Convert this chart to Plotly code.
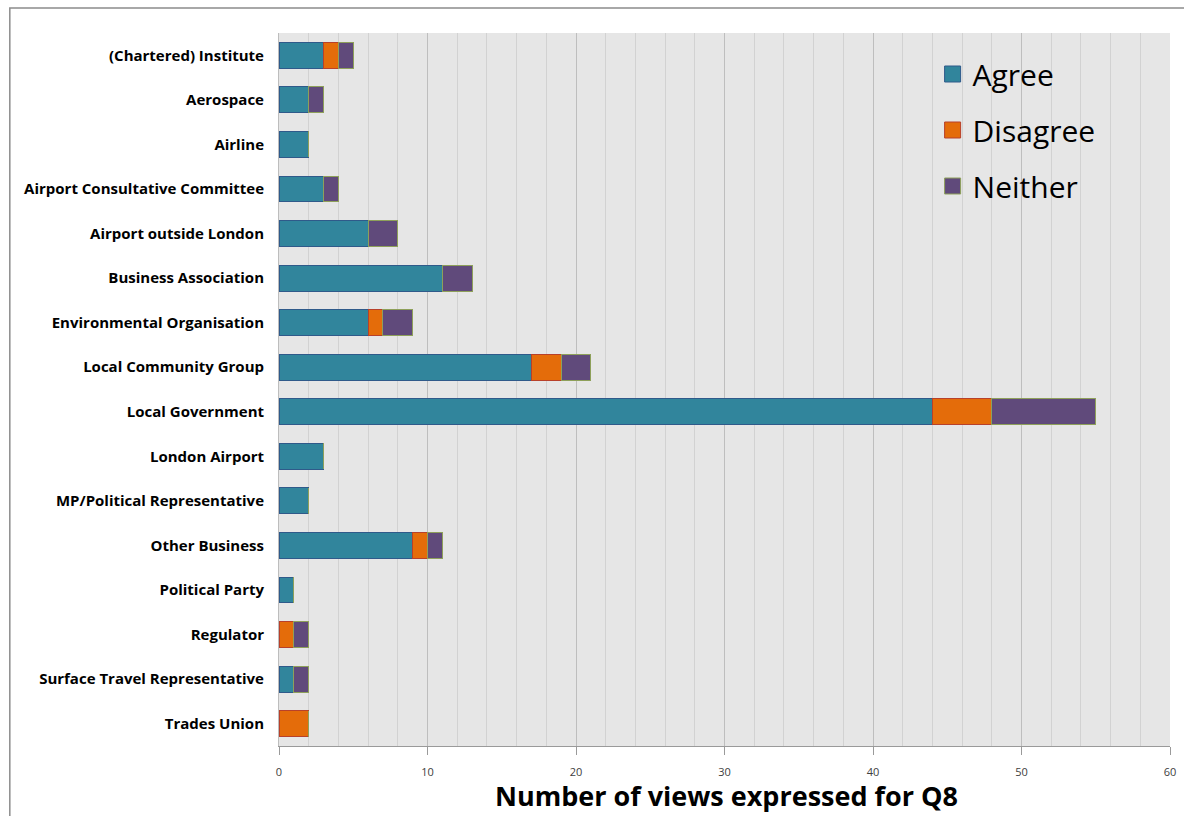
import plotly.graph_objects as go

categories = [
    "(Chartered) Institute", "Aerospace", "Airline", "Airport Consultative Committee",
    "Airport outside London", "Business Association", "Environmental Organisation",
    "Local Community Group", "Local Government", "London Airport",
    "MP/Political Representative", "Other Business", "Political Party", "Regulator",
    "Surface Travel Representative", "Trades Union",
]
agree    = [3, 2, 2, 3, 6, 11, 6, 17, 44, 3, 2, 9, 1, 0, 1, 0]
disagree = [1, 0, 0, 0, 0, 0, 1, 2, 4, 0, 0, 1, 0, 1, 0, 2]
neither  = [1, 1, 0, 1, 2, 2, 2, 2, 7, 0, 0, 1, 0, 1, 1, 0]

series = [
    ("Agree", agree, "#31859C", "#2F5A8A"),
    ("Disagree", disagree, "#E46C0A", "#B8412A"),
    ("Neither", neither, "#604A7B", "#8EA05A"),
]

W, H = 1184, 816
L, R, T, B = 279, 8, 33, 70
pw, ph = W - L - R, H - T - B

def px_x(px):
    return (px - L) / pw

def px_y(py):
    return (H - B - py) / ph

fig = go.Figure()
for name, vals, fill, edge in series:
    fig.add_trace(go.Bar(
        y=categories, x=vals, orientation="h", name=name,
        marker=dict(color=fill, line=dict(color=edge, width=1)),
        width=0.58, showlegend=False,
    ))
    # legend entry with a larger square swatch
    fig.add_trace(go.Scatter(
        x=[None], y=[None], mode="markers", name=name,
        marker=dict(symbol="square", size=20, color=fill, line=dict(color=edge, width=1)),
        legendgroup=name, showlegend=True,
    ))

fig.update_layout(
    width=W, height=H,
    margin=dict(l=L, r=R, t=T, b=B),
    barmode="stack",
    paper_bgcolor="white",
    plot_bgcolor="#E6E6E6",
    font=dict(family="Open Sans, Lato, sans-serif", color="#000000"),
    legend=dict(
        x=px_x(937), y=px_y(48), xanchor="left", yanchor="top",
        bgcolor="rgba(0,0,0,0)", font=dict(size=30, color="#000000"),
        tracegroupgap=14, itemsizing="trace",
    ),
    xaxis=dict(
        range=[0, 60], dtick=10, tick0=0,
        showgrid=True, gridcolor="#BEBEBE", gridwidth=1,
        minor=dict(dtick=2, showgrid=True, gridcolor="#D2D2D2", gridwidth=1, ticks=""),
        ticks="outside", ticklen=8, tickcolor="#9A9A9A",
        showline=True, linecolor="#9A9A9A", linewidth=1,
        tickfont=dict(size=11, color="#404040"), ticklabelstandoff=8,
        zeroline=False, fixedrange=True,
    ),
    yaxis=dict(
        categoryorder="array", categoryarray=categories, autorange="reversed",
        showline=True, linecolor="#BDBDBD", linewidth=1,
        showgrid=False, ticks="", ticklabelstandoff=11,
        tickfont=dict(size=15, color="#000000", weight="bold"),
    ),
    annotations=[dict(
        text="<b>Number of views expressed for Q8</b>",
        x=px_x(730), y=0, xref="paper", yref="paper", yshift=-B,
        xanchor="center", yanchor="bottom", showarrow=False,
        font=dict(size=27, color="#000000"),
    )],
    shapes=[dict(
        type="rect", xref="paper", yref="paper",
        x0=px_x(8), x1=px_x(1200), y0=px_y(8), y1=px_y(830),
        line=dict(color="#8C8C8C", width=1.5), fillcolor="rgba(0,0,0,0)", layer="below",
    )],
)

fig.write_html("out.html")
